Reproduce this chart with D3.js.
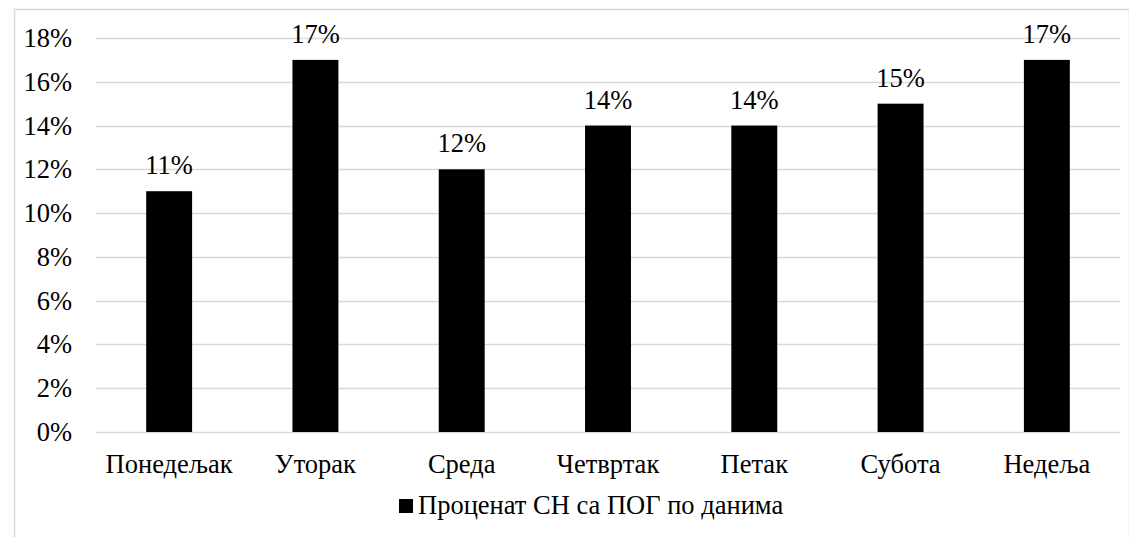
<!DOCTYPE html>
<html>
<head>
<meta charset="utf-8">
<script src="https://cdn.jsdelivr.net/npm/d3@7"></script>
<style>
  body { margin: 0; background: #fff; }
</style>
</head>
<body>
<script>
// data
var days = ["Понедељак", "Уторак", "Среда", "Четвртак", "Петак", "Субота", "Недеља"];
var percents = [11, 17, 12, 14, 14, 15, 17];
var yTicks = [0, 2, 4, 6, 8, 10, 12, 14, 16, 18];
var seriesName = "Проценат СН са ПОГ по данима";

var w = 1129;
var h = 537;
var plotLeft = 96, plotRight = 1120, plotTop = 38, plotBottom = 432;
var fontName = "Liberation Serif";
var fontSize = 26.5;

var svg = d3.select("body").append("svg")
  .attr("width", w)
  .attr("height", h);

// chart border
svg.append("rect")
  .attr("x", 14.5).attr("y", 9.5)
  .attr("width", w - 14).attr("height", h)
  .attr("fill", "none")
  .attr("stroke", "#d9d9d9")
  .attr("stroke-width", 1.5);

var x = d3.scaleBand()
  .domain(days)
  .range([plotLeft, plotRight])
  .paddingInner(0.686)
  .paddingOuter(0.343);

var y = d3.scaleLinear()
  .domain([0, 18])
  .range([plotBottom, plotTop]);

// gridlines
svg.append("g")
  .selectAll("line")
  .data(yTicks)
  .enter().append("line")
  .attr("x1", plotLeft).attr("x2", plotRight)
  .attr("y1", function(d) { return Math.round(y(d)) + 0.5; })
  .attr("y2", function(d) { return Math.round(y(d)) + 0.5; })
  .attr("stroke", "#d9d9d9")
  .attr("stroke-width", 1.5);

// y axis labels
var yAxis = svg.append("g")
  .attr("transform", "translate(" + plotLeft + ",0)")
  .call(d3.axisLeft(y).tickValues(yTicks).tickSize(0).tickPadding(24)
    .tickFormat(function(d) { return d + "%"; }));
yAxis.select(".domain").remove();
yAxis.attr("font-family", fontName).attr("font-size", fontSize);

// bars
svg.selectAll(".bar")
  .data(percents)
  .enter().append("rect")
  .attr("class", "bar")
  .attr("x", function(d, i) { return x(days[i]); })
  .attr("y", function(d) { return y(d); })
  .attr("width", x.bandwidth())
  .attr("height", function(d) { return y(0) - y(d); })
  .attr("fill", "#000");

// value labels
svg.selectAll(".val")
  .data(percents)
  .enter().append("text")
  .attr("class", "val")
  .attr("x", function(d, i) { return x(days[i]) + x.bandwidth() / 2; })
  .attr("y", function(d) { return y(d) - 17; })
  .attr("text-anchor", "middle")
  .attr("font-family", fontName)
  .attr("font-size", fontSize)
  .text(function(d) { return d + "%"; });

// x axis labels
var xAxis = svg.append("g")
  .attr("transform", "translate(0," + plotBottom + ")")
  .call(d3.axisBottom(x).tickSize(0).tickPadding(22));
xAxis.select(".domain").remove();
xAxis.attr("font-family", fontName).attr("font-size", fontSize);

// legend
var legend = svg.append("g").attr("transform", "translate(399,499)");
legend.append("rect")
  .attr("width", 14).attr("height", 14)
  .attr("fill", "#000");
legend.append("text")
  .attr("x", 19).attr("y", 15)
  .attr("font-family", fontName)
  .attr("font-size", fontSize)
  .text(seriesName);
</script>
</body>
</html>
